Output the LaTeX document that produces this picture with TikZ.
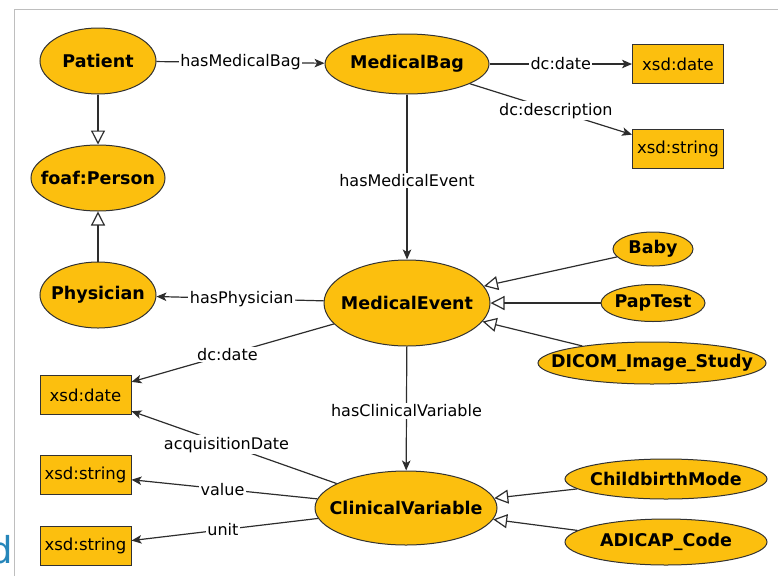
\documentclass[tikz,border=0pt]{standalone}
\usepackage{fontspec}
\setmainfont{DejaVu Sans}
\usetikzlibrary{shapes.geometric,arrows.meta}

\definecolor{owlfill}{RGB}{252,191,14}
\definecolor{rim}{RGB}{50,50,50}
\definecolor{wire}{RGB}{45,45,45}
\definecolor{framegray}{RGB}{190,190,190}
\definecolor{slideblue}{RGB}{38,134,186}

\tikzset{
  cls/.style={ellipse, draw=rim, fill=owlfill, line width=1pt, inner sep=0pt,
    font=\bfseries\fontsize{17.5}{20}\selectfont},
  dtype/.style={rectangle, draw=rim, fill=owlfill, line width=1pt, inner sep=0pt,
    minimum width=91pt, minimum height=39pt, font=\fontsize{16.5}{19}\selectfont},
  prop/.style={draw=wire, line width=1.2pt, -{Stealth[length=10pt,width=8.5pt,inset=2.5pt]}},
  subcls/.style={draw=wire, line width=1.2pt, -{Triangle[length=14pt,width=14pt,fill=white]}},
  lbl/.style={fill=white, inner sep=1.5pt, font=\fontsize{16}{19}\selectfont, text=black},
}

\begin{document}
\begin{tikzpicture}[x=1pt,y=-1pt]
\useasboundingbox (0,0) rectangle (778,576);

% slide frame and slide text running off the left edge
\draw[framegray, line width=0.9pt] (14,576) -- (14,9) -- (778,9);
\node[anchor=base east, inner sep=0pt, text=slideblue, font=\fontsize{37}{40}\selectfont] (slidetext) at (13.5,563) {d};

% classes
\node[cls, minimum width=116pt, minimum height=66pt] (patient)   at (98,61)   {\makebox[0pt]{Patient}};
\node[cls, minimum width=134pt, minimum height=66pt] (person)    at (98,178)  {\makebox[0pt]{foaf:Person}};
\node[cls, minimum width=116pt, minimum height=66pt] (physician) at (98,295)  {\makebox[0pt]{Physician}};
\node[cls, minimum width=164pt, minimum height=60pt] (bag)       at (407,64)  {\makebox[0pt]{MedicalBag}};
\node[cls, minimum width=166pt, minimum height=86pt] (event)     at (407,303) {\makebox[0pt]{MedicalEvent}};
\node[cls, minimum width=182pt, minimum height=74pt] (clinvar)   at (406,508) {\makebox[0pt]{ClinicalVariable}};
\node[cls, minimum width=80pt,  minimum height=34pt] (baby)      at (653,249) {\makebox[0pt]{Baby}};
\node[cls, minimum width=104pt, minimum height=37pt] (paptest)   at (653,303) {\makebox[0pt]{PapTest}};
\node[cls, minimum width=228pt, minimum height=42pt] (dicom)     at (652,363) {\makebox[0pt]{DICOM\_Image\_Study}};
\node[cls, minimum width=202pt, minimum height=40pt] (birth)     at (666,479) {\makebox[0pt]{ChildbirthMode}};
\node[cls, minimum width=202pt, minimum height=46pt] (adicap)    at (666,542) {\makebox[0pt]{ADICAP\_Code}};

% datatypes
\node[dtype] (bagdate)  at (678,64)  {xsd:date};
\node[dtype] (bagdesc)  at (678,149) {xsd:string};
\node[dtype] (evdate)   at (85.5,395) {xsd:date};
\node[dtype] (cvvalue)  at (85.5,475) {xsd:string};
\node[dtype] (cvunit)   at (85.5,546) {xsd:string};

% object and data properties
\draw[prop] (patient) -- node[lbl]{hasMedicalBag} (bag);
\draw[prop] (bag) -- node[lbl]{dc:date} (bagdate);
\draw[prop] (bag) -- node[lbl, pos=0.53]{dc:description} (bagdesc);
\draw[prop] (bag) -- node[lbl, pos=0.52]{hasMedicalEvent} (event);
\draw[prop] (event) -- node[lbl, pos=0.49]{hasPhysician} (physician);
\draw[prop] (event) -- node[lbl, pos=0.526]{dc:date} (evdate);
\draw[prop] (event) -- node[lbl, pos=0.52]{hasClinicalVariable} (clinvar);
\draw[prop] (clinvar) -- node[lbl, pos=0.537]{acquisitionDate} (evdate);
\draw[prop] (clinvar) -- node[lbl, pos=0.51]{value} (cvvalue);
\draw[prop] (clinvar) -- node[lbl, pos=0.51]{unit} (cvunit);

% subclass relations
\draw[subcls] (patient) -- (person);
\draw[subcls] (physician) -- (person);
\draw[subcls] (baby) -- (event);
\draw[subcls] (paptest) -- (event);
\draw[subcls] (dicom) -- (event);
\draw[subcls] (birth) -- (clinvar);
\draw[subcls] (adicap) -- (clinvar);
\end{tikzpicture}
\end{document}
